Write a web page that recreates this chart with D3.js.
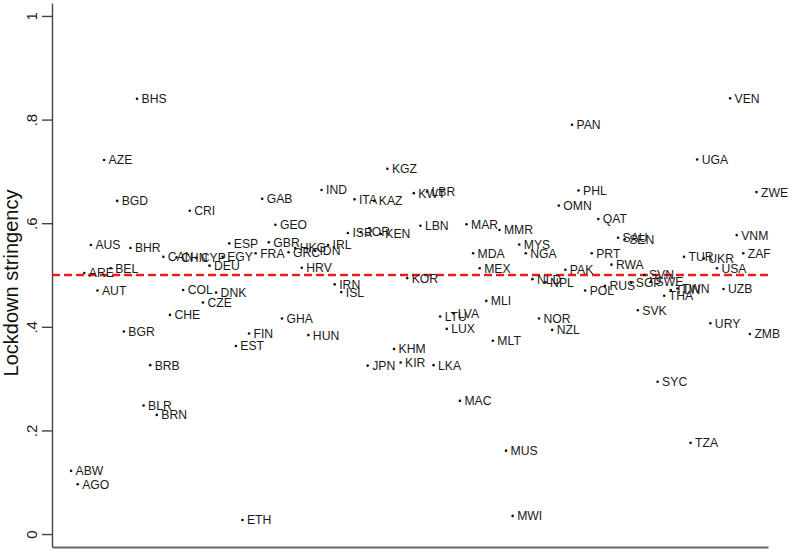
<!DOCTYPE html>
<html lang="en">
<head>
<meta charset="utf-8">
<title>Lockdown stringency by country</title>
<script src="https://d3js.org/d3.v7.min.js"></script>
<style>
    body { margin: 0; background: #fff; font-family: "Liberation Sans", Arial, sans-serif; }
    .lbl { font-size: 12.2px; fill: #1a1a1a; }
    .tick text { font-size: 15px; fill: #222; }
</style>
</head>
<body>
<svg id="chart"></svg>
<script>
    const width = 790, height = 551;

    // country codes in plotting order (x = position in this list)
    const codes = [
        "ABW","AGO","ARE","AUS","AUT","AZE","BEL","BGD","BGR","BHR",
        "BHS","BLR","BRB","BRN","CAN","CHE","CHN","COL","CRI","CYP",
        "CZE","DEU","DNK","EGY","ESP","EST","ETH","FIN","FRA","GAB",
        "GBR","GEO","GHA","GRC","HKG","HRV","HUN","IDN","IND","IRL",
        "IRN","ISL","ISR","ITA","JOR","JPN","KAZ","KEN","KGZ","KHM",
        "KIR","KOR","KWT","LBN","LBR","LKA","LTU","LUX","LVA","MAC",
        "MAR","MDA","MEX","MLI","MLT","MMR","MUS","MWI","MYS","NGA",
        "NLD","NOR","NPL","NZL","OMN","PAK","PAN","PHL","POL","PRT",
        "QAT","RUS","RWA","SAU","SEN","SGP","SVK","SVN","SWE","SYC",
        "THA","TUN","TWN","TUR","TZA","UGA","UKR","URY","USA","UZB",
        "VEN","VNM","ZAF","ZMB","ZWE"
    ];

    const stringency = [
        0.122,0.096,0.504,0.558,0.470,0.722,0.513,0.643,0.391,0.552,
        0.840,0.248,0.326,0.230,0.535,0.423,0.534,0.471,0.624,0.533,
        0.447,0.518,0.466,0.535,0.561,0.363,0.027,0.387,0.542,0.647,
        0.563,0.597,0.416,0.544,0.552,0.514,0.384,0.547,0.664,0.558,
        0.482,0.467,0.581,0.646,0.583,0.325,0.643,0.579,0.705,0.357,
        0.331,0.494,0.658,0.595,0.661,0.326,0.420,0.396,0.426,0.257,
        0.598,0.542,0.513,0.450,0.373,0.587,0.161,0.035,0.559,0.542,
        0.492,0.416,0.486,0.394,0.634,0.510,0.790,0.663,0.470,0.542,
        0.608,0.479,0.520,0.572,0.569,0.485,0.432,0.500,0.488,0.294,
        0.460,0.471,0.474,0.535,0.176,0.723,0.532,0.407,0.513,0.473,
        0.841,0.577,0.542,0.386,0.660
    ];

    const yTicks = [0, 0.2, 0.4, 0.6, 0.8, 1];
    const threshold = 0.5;

    const svg = d3.select("#chart").attr("width", width).attr("height", height);

    const x = d3.scaleLinear().domain([-2.9, codes.length + 0.75]).range([52, 768]);
    const y = d3.scaleLinear().domain([-0.025, 1.025]).range([547, 3]);

    // x axis: just the baseline, no ticks
    const xAxis = svg.append("g")
        .attr("transform", `translate(0,${y(-0.025)})`)
        .call(d3.axisBottom(x).tickValues([]).tickSizeOuter(0));
    xAxis.select(".domain").attr("stroke", "#666").attr("stroke-width", 2);

    const yAxis = svg.append("g")
        .attr("transform", `translate(${x(-2.9)},0)`)
        .call(d3.axisLeft(y)
            .tickValues(yTicks)
            .tickSize(10)
            .tickSizeOuter(0)
            .tickFormat(d => d === 0 ? "0" : d === 1 ? "1" : String(d).replace(/^0/, "")));
    yAxis.select(".domain").attr("stroke", "#444").attr("stroke-width", 1.4);
    yAxis.selectAll(".tick line").attr("stroke", "#444").attr("stroke-width", 1.4);
    yAxis.selectAll(".tick text")
        .attr("x", 0).attr("dy", 0)
        .attr("text-anchor", "middle")
        .attr("transform", "translate(-15,0) rotate(-90)");

    svg.append("text")
        .attr("transform", `translate(18,${(y(0) + y(1)) / 2 + 8}) rotate(-90)`)
        .attr("text-anchor", "middle")
        .style("font-size", "20px")
        .style("fill", "#111")
        .text("Lockdown stringency");

    // reference line at 0.5
    svg.append("line")
        .attr("x1", x(-2.9)).attr("x2", x(codes.length + 0.75))
        .attr("y1", y(threshold)).attr("y2", y(threshold))
        .attr("stroke", "#ec1c1c")
        .attr("stroke-width", 2.4)
        .attr("stroke-dasharray", "8,4");

    const pts = svg.append("g").selectAll("g")
        .data(codes.map((c, i) => ({ code: c, i, v: stringency[i] })))
        .join("g")
        .attr("transform", d => `translate(${x(d.i)},${y(d.v)})`);

    pts.append("circle").attr("r", 1.3).attr("fill", "#111");

    pts.append("text")
        .attr("class", "lbl")
        .attr("x", 4.5)
        .attr("dy", "0.36em")
        .text(d => d.code);
</script>
</body>
</html>
